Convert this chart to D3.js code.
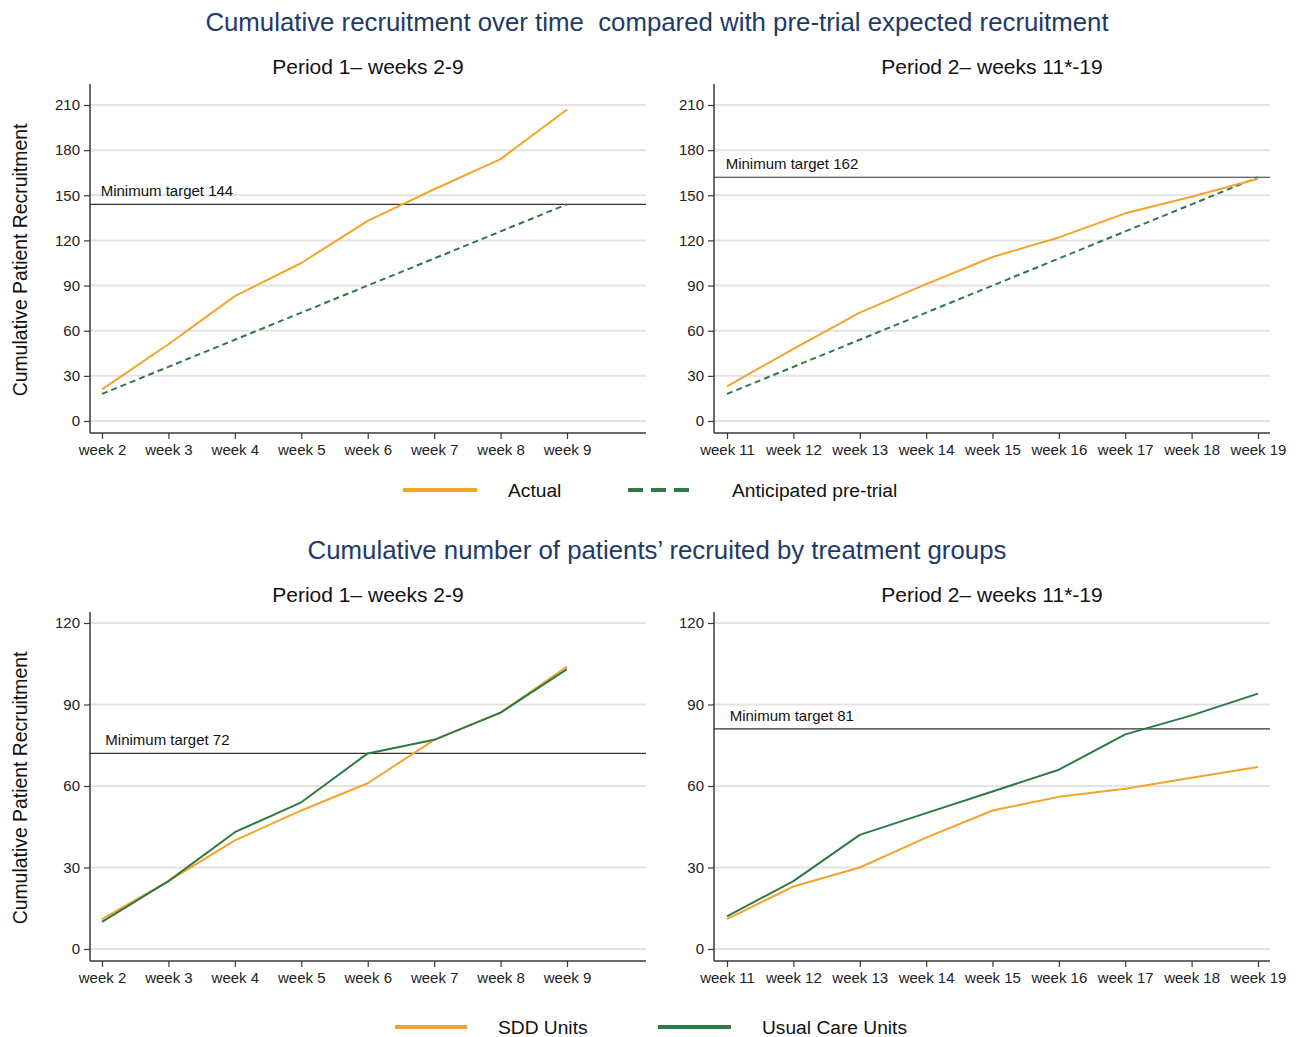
<!DOCTYPE html>
<html>
<head>
<meta charset="utf-8">
<script src="https://cdn.jsdelivr.net/npm/d3@7"></script>
<style>
  html, body { margin: 0; padding: 0; background: #fff; }
  svg { display: block; font-family: "Liberation Sans", Arial, sans-serif; }
  .keep-space { white-space: pre; }
</style>
</head>
<body>
<svg id="chart" width="1299" height="1037"></svg>
<script>
// ---- Data ----
const weeksP1 = [2, 3, 4, 5, 6, 7, 8, 9];
const weeksP2 = [11, 12, 13, 14, 15, 16, 17, 18, 19];

// Overall recruitment
const actualP1 = [21, 51, 83, 105, 133, 154, 174, 207];
const anticipatedP1 = [18, 36, 54, 72, 90, 108, 126, 144];
const actualP2 = [23, 48, 72, 91, 109, 122, 138, 149, 161];
const anticipatedP2 = [18, 36, 54, 72, 90, 108, 126, 144, 162];

// Recruitment by treatment group
const sddP1 = [11, 25, 40, 51, 61, 77, 87, 104];
const usualP1 = [10, 25, 43, 54, 72, 77, 87, 103];
const sddP2 = [11, 23, 30, 41, 51, 56, 59, 63, 67];
const usualP2 = [12, 25, 42, 50, 58, 66, 79, 86, 94];

// Minimum targets
const targetsTop = [144, 162];
const targetsBottom = [72, 81];

// Tick values
const yTicksTop = [0, 30, 60, 90, 120, 150, 180, 210];
const yTicksBottom = [0, 30, 60, 90, 120];

const titles = [
  "Cumulative recruitment over time  compared with pre-trial expected recruitment",
  "Cumulative number of patients\u2019 recruited by treatment groups"
];
const panelTitles = ["Period 1\u2013 weeks 2-9", "Period 2\u2013 weeks 11*-19"];
const yTitle = "Cumulative Patient Recruitment";
const legendTop = ["Actual", "Anticipated pre-trial"];
const legendBottom = ["SDD Units", "Usual Care Units"];

// ---- Styles ----
const ORANGE = "#f4a42c";
const GREEN = "#2e7a44";
const GRID = "#e3e3e3";
const AXIS = "#3a3a3a";
const TITLE_BLUE = "#1e3a68";

const svg = d3.select("#chart");

// Column geometry (left / right)
const cols = [
  { weeks: weeksP1, xFrom: 2, xTo: 9, r0: 102, r1: 567, spine: [90, 646] },
  { weeks: weeksP2, xFrom: 11, xTo: 19, r0: 727, r1: 1258, spine: [714, 1270] }
];
// Row geometry (top / bottom)
const rows = [
  { ticks: yTicksTop, yMax: 210, r0: 421, r1: 105, spine: [84, 433] },
  { ticks: yTicksBottom, yMax: 120, r0: 949, r1: 623, spine: [612, 961] }
];

function drawPanel(ci, ri, series, target, labelWeekOffset) {
  const c = cols[ci], r = rows[ri];
  const x = d3.scaleLinear().domain([c.xFrom, c.xTo]).range([c.r0, c.r1]);
  const y = d3.scaleLinear().domain([0, r.yMax]).range([r.r0, r.r1]);
  const g = svg.append("g");

  // gridlines
  g.selectAll("line.grid").data(r.ticks).join("line")
    .attr("x1", c.spine[0]).attr("x2", c.spine[1])
    .attr("y1", d => y(d)).attr("y2", d => y(d))
    .attr("stroke", GRID).attr("stroke-width", 2);

  // y axis
  const yAxis = d3.axisLeft(y).tickValues(r.ticks).tickSize(6).tickSizeOuter(0).tickPadding(4);
  const ya = g.append("g").attr("transform", `translate(${c.spine[0]},0)`).call(yAxis);
  ya.select(".domain").remove();
  ya.selectAll(".tick line").attr("stroke", AXIS).attr("stroke-width", 1.2);
  ya.selectAll(".tick text").attr("font-size", 15).attr("fill", "#222")
    .attr("font-family", "Liberation Sans, Arial, sans-serif");
  g.append("line").attr("x1", c.spine[0]).attr("x2", c.spine[0])
    .attr("y1", r.spine[0]).attr("y2", r.spine[1])
    .attr("stroke", AXIS).attr("stroke-width", 1.5);

  // x axis
  const xAxis = d3.axisBottom(x).tickValues(c.weeks).tickSize(6).tickSizeOuter(0)
    .tickPadding(5).tickFormat(d => "week " + d);
  const xa = g.append("g").attr("transform", `translate(0,${r.spine[1]})`).call(xAxis);
  xa.select(".domain").remove();
  xa.selectAll(".tick line").attr("stroke", AXIS).attr("stroke-width", 1.2);
  xa.selectAll(".tick text").attr("font-size", 15).attr("fill", "#222")
    .attr("font-family", "Liberation Sans, Arial, sans-serif");
  g.append("line").attr("x1", c.spine[0]).attr("x2", c.spine[1])
    .attr("y1", r.spine[1]).attr("y2", r.spine[1])
    .attr("stroke", AXIS).attr("stroke-width", 1.5);

  // target line + label
  g.append("line").attr("x1", c.spine[0]).attr("x2", c.spine[1])
    .attr("y1", y(target)).attr("y2", y(target))
    .attr("stroke", "#333").attr("stroke-width", 1.2);
  g.append("text").attr("x", x(c.xFrom + labelWeekOffset)).attr("y", y(target) - 8)
    .attr("font-size", 15).attr("fill", "#111").text("Minimum target " + target);

  // series lines
  const line = d3.line().x(d => x(d[0])).y(d => y(d[1]));
  series.forEach(s => {
    g.append("path")
      .datum(c.weeks.map((w, i) => [w, s.values[i]]))
      .attr("d", line).attr("fill", "none")
      .attr("stroke", s.color).attr("stroke-width", 2)
      .attr("stroke-dasharray", s.dash || null)
      .attr("stroke-linejoin", "round");
  });
}

// Top row: actual vs anticipated
drawPanel(0, 0, [
  { values: anticipatedP1, color: GREEN, dash: "6,4" },
  { values: actualP1, color: ORANGE }
], targetsTop[0], -0.02);
drawPanel(1, 0, [
  { values: anticipatedP2, color: GREEN, dash: "6,4" },
  { values: actualP2, color: ORANGE }
], targetsTop[1], -0.02);

// Bottom row: by treatment group
drawPanel(0, 1, [
  { values: sddP1, color: ORANGE },
  { values: usualP1, color: GREEN }
], targetsBottom[0], 0.05);
drawPanel(1, 1, [
  { values: sddP2, color: ORANGE },
  { values: usualP2, color: GREEN }
], targetsBottom[1], 0.04);

// Titles
svg.append("text").attr("class", "keep-space").attr("x", 657).attr("y", 31).attr("text-anchor", "middle")
  .attr("font-size", 25.8).attr("fill", TITLE_BLUE).text(titles[0]);
svg.append("text").attr("x", 657).attr("y", 559).attr("text-anchor", "middle")
  .attr("font-size", 25.8).attr("fill", TITLE_BLUE).text(titles[1]);

[[368, 74], [992, 74], [368, 602], [992, 602]].forEach((p, i) => {
  svg.append("text").attr("x", p[0]).attr("y", p[1]).attr("text-anchor", "middle")
    .attr("font-size", 21).attr("fill", "#111").text(panelTitles[i % 2]);
});

// Y axis titles
[260, 788].forEach(cy => {
  svg.append("text").attr("transform", `translate(27,${cy}) rotate(-90)`)
    .attr("text-anchor", "middle").attr("font-size", 19.4).attr("fill", "#111").text(yTitle);
});

// Legends
function legendItem(x1, x2, y, color, dash, label, tx) {
  svg.append("line").attr("x1", x1).attr("x2", x2).attr("y1", y).attr("y2", y)
    .attr("stroke", color).attr("stroke-width", 4).attr("stroke-dasharray", dash || null);
  svg.append("text").attr("x", tx).attr("y", y + 7).attr("font-size", 19.2)
    .attr("fill", "#111").text(label);
}
legendItem(403, 477, 490, ORANGE, null, legendTop[0], 508);
legendItem(628, 697, 490, GREEN, "15,8", legendTop[1], 732);
legendItem(395, 467, 1027, ORANGE, null, legendBottom[0], 498);
legendItem(658, 731, 1027, GREEN, null, legendBottom[1], 762);
</script>
</body>
</html>
